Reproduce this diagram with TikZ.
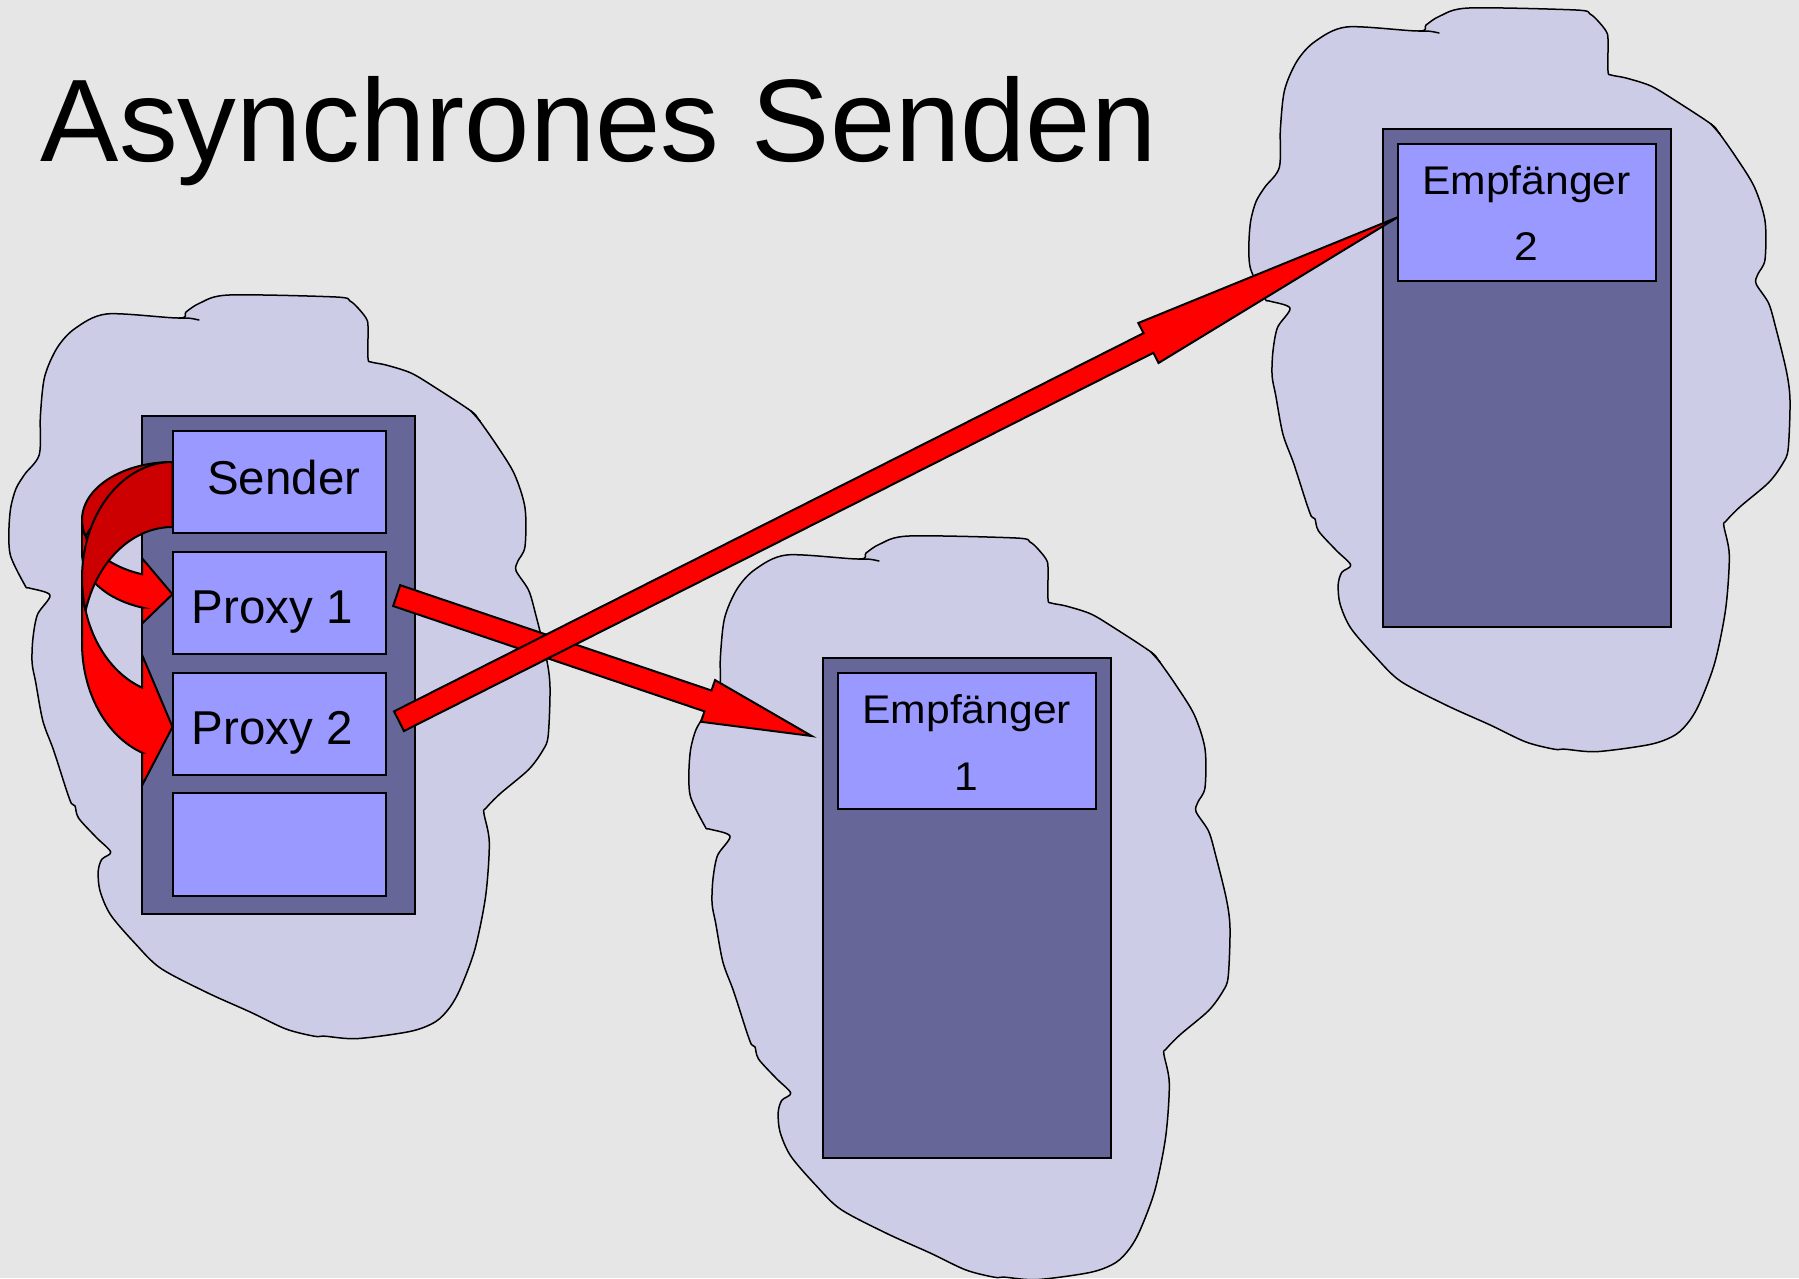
\documentclass[tikz,border=0pt]{standalone}
\usepackage{fontspec}
\setmainfont{Liberation Sans}
\usetikzlibrary{calc}
\definecolor{bgc}{RGB}{230,230,230}
\definecolor{cloudc}{RGB}{204,204,230}
\definecolor{contc}{RGB}{102,102,153}
\definecolor{boxc}{RGB}{153,153,255}
\definecolor{redf}{RGB}{255,0,0}
\definecolor{redd}{RGB}{204,0,0}
\tikzset{
  cloudst/.style={draw=black, fill=cloudc, line width=1.5pt, line join=round},
  hookst/.style={draw=black, line width=1.5pt, line cap=round},
  container/.style={draw=black, fill=contc, line width=2pt, inner sep=0pt, outer sep=0pt, anchor=north west},
  inbox/.style={draw=black, fill=boxc, line width=2pt, inner sep=0pt, outer sep=0pt, anchor=north west},
  bigarrow/.style={draw=black, fill=redf, line width=2pt, line join=miter},
  curvefront/.style={draw=black, fill=redf, line width=2pt, line join=miter},
  curveback/.style={draw=black, fill=redd, line width=2pt, line join=miter},
  boxtext/.style={inner sep=0pt, anchor=base west, font=\fontsize{47.5}{56}\selectfont},
  etext/.style={inner sep=0pt, anchor=base, font=\fontsize{40}{48}\selectfont},
  titletext/.style={inner sep=0pt, anchor=base west, font=\fontsize{117.4}{140}\selectfont}
}
\newcommand{\cloudat}[1]{%
  \filldraw[cloudst, shift={#1}] plot[smooth cycle, tension=0.5] coordinates {
    (107.1,313.9) (179,318) (186,312) (200,303) (229,295) (336,297) (350,301)
    (358,308) (366,318) (368,326) (368,358) (371,362) (386,365) (411,373)
    (436,388) (471,411) (479,420) (496.4,444.8) (514.3,473.9) (525,507.8)
    (525,546.6) (517.9,561.1) (516.1,570.8) (528.6,590.2) (535.7,614.5)
    (546.4,658.1) (550,687.2) (548.2,735.6) (542.9,750.2) (528.6,769.6)
    (500,793.8) (485.7,808.4) (483.9,813.2) (489.3,842.3) (485.7,895.6)
    (475,948.9) (460.7,987.7) (450,1007.1) (435.7,1021.6) (410.7,1031.3)
    (357.1,1038.6) (325,1036.2) (314.3,1036.2) (285.7,1028.9) (250,1011.9)
    (207.1,992.6) (160.7,968.3) (135.7,944.1) (110.7,915) (100,890.8)
    (98.2,871.4) (101.8,859.3) (110.7,852) (96.4,837.5) (78.6,818.1)
    (75,805.9) (71.4,803.5) (66.1,789) (53.6,750.2) (42.9,721.1) (35.7,682.3)
    (32.1,662.9) (32.9,638.7) (37.5,614.5) (50,595.1) (28.6,587.8) (25,585.4)
    (10.7,556.3) (8.9,532.1) (10.7,507.8) (16.1,488.4) (25,473.9) (39.3,454.5)
    (40.4,415.7) (44.6,376.9) (57.1,347.9) (75,328.5)};
  \draw[hookst, shift={#1}] (179,318) .. controls (190,318) .. (199,320);
  \draw[hookst, shift={#1}] (471,411) -- (480,421);
}
\newcommand{\blockarrow}[5]{%
  \coordinate (ba-h) at ($(#2)!#5pt!(#1)$);
  \filldraw[bigarrow] ($(#1)!#3pt!90:(#2)$) -- ($(ba-h)!#3pt!-90:(#1)$)
    -- ($(ba-h)!#4pt!-90:(#1)$) -- (#2) -- ($(ba-h)!#4pt!90:(#1)$)
    -- ($(ba-h)!#3pt!90:(#1)$) -- ($(#1)!#3pt!-90:(#2)$) -- cycle;
}
\newcommand{\curvedarrow}[7]{%
  \pgfmathsetmacro{\caL}{#1-#3}
  \pgfmathsetmacro{\caA}{#2+#4}
  \pgfmathsetmacro{\caB}{#2+#4+#5}
  \pgfmathsetmacro{\caT}{180-acos(#7/#3)}
  \pgfmathsetmacro{\caF}{\caA+#4*sin(\caT)}
  \pgfmathsetmacro{\caG}{\caF+#5}
  \pgfmathsetmacro{\caD}{(#6-#5)/2}
  \pgfmathsetmacro{\caX}{#1-#7}
  \pgfmathsetmacro{\caY}{#2+2*#4+#5/2}
  \pgfmathsetmacro{\caI}{asin(#5/(2*#4))}
  \pgfmathsetmacro{\caU}{\caF-\caD}
  \pgfmathsetmacro{\caV}{\caG+\caD}
  \pgfmathsetmacro{\caP}{180-\caI}
  \pgfmathsetmacro{\caQ}{180+\caI}
  \filldraw[curvefront] (\caL,\caA)
    -- plot[domain=180:\caT, samples=50] ({#1+#3*cos(\x)},{\caA+#4*sin(\x)})
    -- (\caX,\caU) -- (#1,\caY) -- (\caX,\caV) -- (\caX,\caG)
    -- plot[domain=\caT:180, samples=50] ({#1+#3*cos(\x)},{\caB+#4*sin(\x)})
    -- cycle;
  \filldraw[curveback] (#1,#2)
    -- plot[domain=270:\caP, samples=50] ({#1+#3*cos(\x)},{\caA+#4*sin(\x)})
    -- plot[domain=\caQ:270, samples=50] ({#1+#3*cos(\x)},{\caB+#4*sin(\x)})
    -- cycle;
}
\begin{document}
\begin{tikzpicture}[x=1pt, y=-1pt]
  \useasboundingbox (0,0) rectangle (1799,1278);
  \fill[bgc] (0,0) rectangle (1799,1278);

  % clouds
  \cloudat{(0,0)}
  \cloudat{(680,241)}
  \cloudat{(1240,-287)}

  % sender side
  \node[container, minimum width=273pt, minimum height=498pt] (c1) at (142,416) {};
  \node[inbox, minimum width=213.5pt, minimum height=102pt] (sender) at (172.5,430.5) {};
  \node[inbox, minimum width=213.5pt, minimum height=102pt] (proxy1) at (172.5,551.7) {};
  \node[inbox, minimum width=213.5pt, minimum height=102pt] (proxy2) at (172.5,672.6) {};
  \node[inbox, minimum width=213.5pt, minimum height=102.7pt] (empty) at (172.5,792.9) {};

  % receiver 1
  \node[container, minimum width=288pt, minimum height=500.3pt] (c2) at (822.5,657.7) {};
  \node[inbox, minimum width=257.5pt, minimum height=136pt] (emp1) at (838,673.3) {};

  % receiver 2
  \node[container, minimum width=288.5pt, minimum height=498.5pt] (c3) at (1382.5,128.5) {};
  \node[inbox, minimum width=258pt, minimum height=137pt] (emp2) at (1397.5,144) {};

  % texts
  \node[titletext] (title) at (40.5,161.7) {Asynchrones Senden};
  \node[boxtext] (tsender) at (207,494) {Sender};
  \node[boxtext] (tproxy1) at (191.5,623.3) {Proxy 1};
  \node[boxtext] (tproxy2) at (191.5,744.8) {Proxy 2};
  \node[etext] (temp1a) at (966.7,723.3) {\scalebox{1.065}[1]{Empfänger}};
  \node[etext] (temp1b) at (966.7,790) {\scalebox{1.065}[1]{1}};
  \node[etext] (temp2a) at (1526.5,194) {\scalebox{1.065}[1]{Empfänger}};
  \node[etext] (temp2b) at (1526.5,260.7) {\scalebox{1.065}[1]{2}};

  % curved arrows from Sender to the proxies
  \curvedarrow{172.5}{462}{90.5}{57.8}{33.3}{65}{30.3}
  \curvedarrow{172.5}{462}{90.5}{116.2}{65}{130}{30.3}

  % straight arrows from the proxies to the receivers
  \coordinate (a1s) at ($(proxy1.east)+(10.7,-7.1)$);
  \coordinate (a1e) at (811.7,736);
  \blockarrow{a1s}{a1e}{11}{22}{109.5}
  \coordinate (a2s) at ($(proxy2.east)+(13,-2.4)$);
  \coordinate (a2e) at ($(emp2.west)+(0,4.8)$);
  \blockarrow{a2s}{a2e}{11}{22.4}{279}
\end{tikzpicture}
\end{document}
